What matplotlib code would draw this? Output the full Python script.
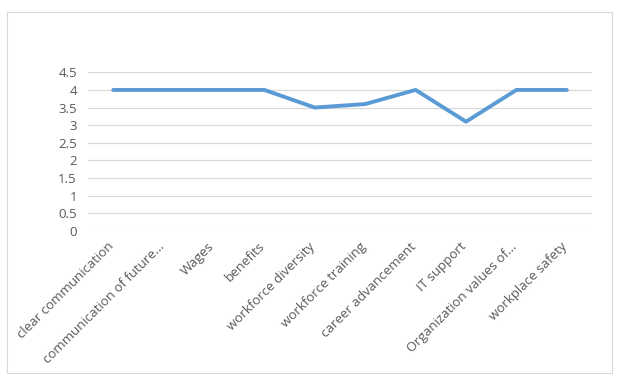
import matplotlib
matplotlib.use("Agg")
from matplotlib import pyplot as plt
from matplotlib.patches import Rectangle
import matplotlib.transforms as mtransforms

categories = ["clear communication", "communication of future...", "Wages", "benefits",
              "workforce diversity", "workforce training", "career advancement",
              "IT support", "Organization values of...", "workplace safety"]
values = [4, 4, 4, 4, 3.5, 3.6, 4, 3.1, 4, 4]
yticks = [0, 0.5, 1, 1.5, 2, 2.5, 3, 3.5, 4, 4.5]

plt.rcParams['font.family'] = ['Open Sans', 'DejaVu Sans']
text_color = '#595959'

fig = plt.figure(figsize=(6.19, 3.85), dpi=100)
fig.patches.append(Rectangle((7 / 619, 12 / 385), 605 / 619, 361 / 385,
                             transform=fig.transFigure, fill=False,
                             edgecolor='#D9D9D9', linewidth=0.8))

ax = fig.add_axes([0.1422, 0.4, 0.8142, 0.4122])
x = range(len(categories))
ax.plot(x, values, color='#5B9BD5', linewidth=2.8, solid_capstyle='round', solid_joinstyle='round')

ax.set_xlim(-0.5, len(categories) - 0.5)
ax.set_ylim(0, 4.5)
ax.set_yticks(yticks)
ax.set_yticklabels([f"{v:g}" for v in yticks], fontsize=9.5, color=text_color)
ax.grid(axis='y', color='#D9D9D9', linewidth=0.9)
ax.set_axisbelow(True)
for s in ax.spines.values():
    s.set_visible(False)
ax.tick_params(axis='both', length=0)
ax.tick_params(axis='y', pad=8)

ax.set_xticks(list(x))
ax.set_xticklabels(categories, rotation=45, ha='right', rotation_mode='anchor',
                   fontsize=9.5, color=text_color)
offset = mtransforms.ScaledTranslation(-6 / 100, -4 / 100, fig.dpi_scale_trans)
for lbl in ax.get_xticklabels():
    lbl.set_transform(lbl.get_transform() + offset)

fig.savefig("out.png", dpi=100)
